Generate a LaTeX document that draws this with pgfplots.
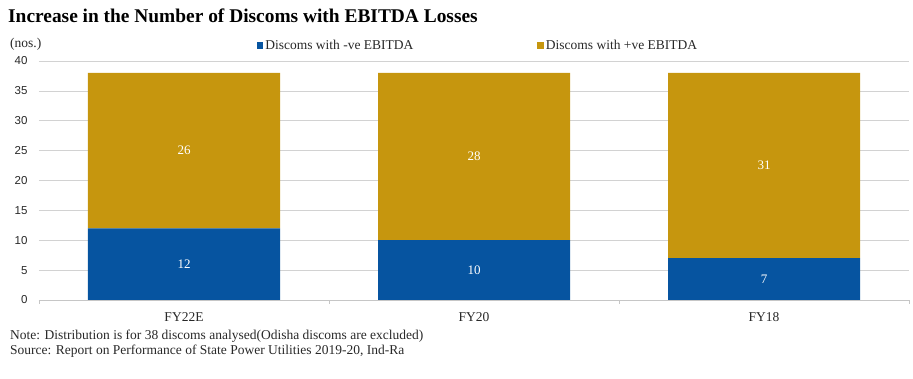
\documentclass[border=0pt]{standalone}
\usepackage{pgfplots}
\pgfplotsset{compat=1.18}
\usepackage{fontspec}
\setmainfont{Liberation Serif}
\newfontfamily\ticksans{Liberation Sans}
\definecolor{negblue}{RGB}{6,84,160}
\definecolor{posgold}{RGB}{198,150,14}
\definecolor{txtgray}{RGB}{40,40,40}
\begin{document}
\begin{tikzpicture}
\useasboundingbox (0pt,0pt) rectangle (913pt,379pt);
\node[anchor=base west,font=\fontsize{19.4}{20}\selectfont\bfseries,inner sep=0pt] at (8pt,356pt) {Increase in the Number of Discoms with EBITDA Losses};
\node[anchor=base west,font=\fontsize{13.5}{14}\selectfont,text=txtgray,inner sep=0pt] at (10pt,331pt) {(nos.)};
\node[anchor=base west,font=\fontsize{13.5}{14}\selectfont,text=txtgray,inner sep=0pt] at (10pt,39pt) {Note: Distribution is for 38 discoms analysed(Odisha discoms are excluded)};
\node[anchor=base west,font=\fontsize{13.5}{14}\selectfont,text=txtgray,inner sep=0pt] at (10pt,24pt) {Source: Report on Performance of State Power Utilities 2019-20, Ind-Ra};
\begin{axis}[
  at={(39pt,79pt)}, anchor=south west,
  scale only axis, width=870pt, height=239pt,
  ybar stacked, bar width=192pt,
  xmin=-0.5, xmax=2.5, ymin=0, ymax=40,
  xtick={0,1,2}, xticklabels={FY22E,FY20,FY18},
  minor xtick={-0.5,0.5,1.5,2.5},
  ytick={0,5,...,40},
  axis x line*=bottom, axis y line*=left,
  y axis line style={draw=none},
  x axis line style={draw=gray!45,-},
  xtick style={draw=none},
  minor x tick style={draw=gray!45},
  ytick style={draw=none},
  xtick align=outside, minor tick length=4pt,
  ymajorgrids, grid style={draw=gray!35, line width=0.6pt},
  xticklabel style={font=\fontsize{13.5}{14}\selectfont, text=txtgray, yshift=-5pt},
  yticklabel style={font=\ticksans\fontsize{11.5}{12}\selectfont, text=txtgray, xshift=-8pt},
  /pgf/number format/assume math mode=true,
  legend style={at={(0.5,1)}, anchor=south, xshift=4pt, yshift=6pt, draw=none, fill=none,
    font=\fontsize{13.5}{14}\selectfont, text=txtgray,
    legend columns=2,
    /tikz/every even column/.append style={column sep=122pt}},
  legend image code/.code={\fill[#1,draw=none] (0pt,-3.5pt) rectangle (6.5pt,3pt);},
  point meta=explicit symbolic,
  nodes near coords,
  every node near coord/.append style={anchor=center, text=white,
    font=\fontsize{13}{14}\selectfont},
]
\addplot[fill=negblue, draw=none] coordinates {(0,12) [12] (1,10) [10] (2,7) [7]};
\addplot[fill=posgold, draw=none] coordinates {(0,26) [26] (1,28) [28] (2,31) [31]};
\legend{Discoms with -ve EBITDA, Discoms with +ve EBITDA}
\end{axis}
\end{tikzpicture}
\end{document}
